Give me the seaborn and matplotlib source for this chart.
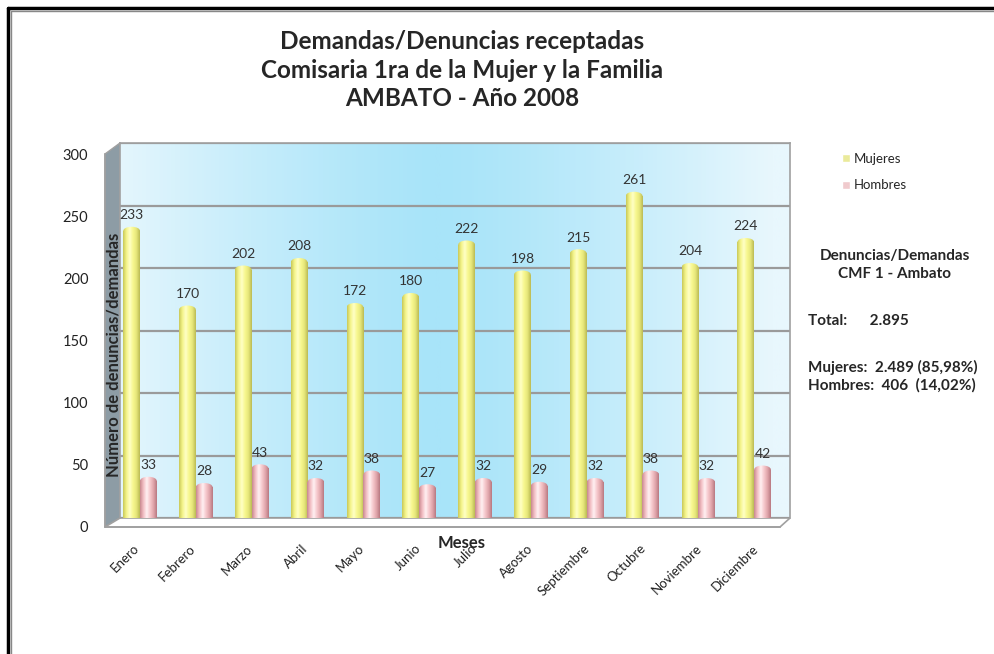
import numpy as np
import pandas as pd
import matplotlib
matplotlib.use('Agg')
import matplotlib.pyplot as plt
import seaborn as sns
from matplotlib.patches import Rectangle, Ellipse, Polygon
from matplotlib.colors import LinearSegmentedColormap
from matplotlib.lines import Line2D

# datos del grafico
meses = ['Enero', 'Febrero', 'Marzo', 'Abril', 'Mayo', 'Junio', 'Julio',
         'Agosto', 'Septiembre', 'Octubre', 'Noviembre', 'Diciembre']
mujeres = [233, 170, 202, 208, 172, 180, 222, 198, 215, 261, 204, 224]
hombres = [33, 28, 43, 32, 38, 27, 32, 29, 32, 38, 32, 42]
series = ['Mujeres', 'Hombres']
yticks = [0, 50, 100, 150, 200, 250, 300]

df = pd.DataFrame({
    'mes': meses * 2,
    'sexo': ['Mujeres'] * len(meses) + ['Hombres'] * len(meses),
    'valor': mujeres + hombres,
})

sns.set_style('white')
plt.rcParams['font.family'] = ['Lato', 'DejaVu Sans']

W, H = 994, 654
fig = plt.figure(figsize=(W / 100, H / 100), dpi=100)


def fx(px):
    return px / W


def fy(py):
    return 1 - py / H


# pared del fondo (back wall) = ejes de datos
ax = fig.add_axes([fx(120), fy(518), fx(790) - fx(120), fy(143) - fy(518)])

grad = np.abs(np.linspace(-1, 1, 256) + 0.05) ** 1.3
wall_cmap = LinearSegmentedColormap.from_list('wall', ['#a8e4f9', '#e8f7fd'])
ax.imshow(grad[None, :], cmap=wall_cmap, extent=[0, 1, 0, 1], transform=ax.transAxes,
          aspect='auto', zorder=0, vmin=0, vmax=1)

sns.barplot(data=df, x='mes', y='valor', hue='sexo', palette=['#f7f78e', '#f6c4c8'],
            width=0.6, ax=ax, zorder=3)
ax.set_xlim(-0.358, 11.642)
ax.set_ylim(0, 300)
ax.set_yticks(yticks)
ax.yaxis.grid(True, color='#9a9a9a', lw=1.6, zorder=1)
ax.set_axisbelow(True)
ax.set_xticks([])
ax.set_yticklabels([])
ax.tick_params(length=0)
ax.set_xlabel('')
ax.set_ylabel('')
for s in ax.spines.values():
    s.set_color('#a0a0a0')
    s.set_linewidth(1.2)
ax.spines['bottom'].set_visible(False)

# cilindros con sombreado
cmaps = {
    'Mujeres': LinearSegmentedColormap.from_list('m', ['#c9c95a', '#f4f48a', '#ffffc6', '#f7f78e', '#e6e67a', '#bcbc55']),
    'Hombres': LinearSegmentedColormap.from_list('h', ['#c98990', '#f3c0c5', '#fff0f2', '#f6c8cc', '#e0a5ab', '#b97a82']),
}
shade = np.linspace(0, 1, 64)[None, :]
for cont, name in zip(ax.containers, series):
    for bar in cont:
        x, w, h = bar.get_x(), bar.get_width(), bar.get_height()
        bar.set_facecolor('none')
        bar.set_edgecolor('none')
        cap = 6.5
        body = Rectangle((x, 0), w, h - cap / 2, transform=ax.transData)
        top = Ellipse((x + w / 2, h - cap / 2), w, cap, transform=ax.transData)
        for clip in (body, top):
            im = ax.imshow(shade, cmap=cmaps[name], extent=[x, x + w, 0, h + 1],
                           aspect='auto', zorder=3)
            im.set_clip_path(clip)
    ax.bar_label(cont, labels=[str(int(b.get_height())) for b in cont], padding=4,
                 fontsize=10, color='#333333')
ax.set_xlim(-0.358, 11.642)
ax.set_ylim(0, 300)

sns.move_legend(ax, loc='upper left', bbox_to_anchor=(fx(830), fy(141)),
                bbox_transform=fig.transFigure, frameon=False, title=None,
                fontsize=9.5, handlelength=0.6, handleheight=0.6, handletextpad=0.3,
                labelspacing=1.1)

# pared lateral y piso (detras de los ejes)
fig.patches.append(Polygon([(fx(105), fy(527)), (fx(105), fy(154)), (fx(120), fy(143)), (fx(120), fy(518))],
                           closed=True, transform=fig.transFigure, facecolor='#8d9ca5',
                           edgecolor='#a0a0a0', lw=1, zorder=-1))
fig.patches.append(Polygon([(fx(105), fy(527)), (fx(780), fy(527)), (fx(790), fy(518)), (fx(120), fy(518))],
                           closed=True, transform=fig.transFigure, facecolor='white',
                           edgecolor='#a0a0a0', lw=1.2, zorder=-1))

# eje frontal con las etiquetas
fr = fig.add_axes([fx(105), fy(527), fx(780) - fx(105), fy(154) - fy(527)])
fr.patch.set_alpha(0)
fr.set_xlim(-0.5, 11.5)
fr.set_ylim(0, 300)
fr.set_yticks(yticks)
fr.set_yticklabels([str(v) for v in yticks], fontsize=10.5, color='#222222')
fr.set_xticks(range(len(meses)))
fr.set_xticklabels(meses, rotation=45, ha='right', va='top', rotation_mode='anchor',
                   fontsize=9.5, color='#222222')
fr.set_xticks(np.arange(-0.5, 12, 1), minor=True)
fr.tick_params(axis='x', which='major', length=0, pad=11)
fr.tick_params(axis='x', which='minor', length=5, color='#a0a0a0', width=1.2)
fr.tick_params(axis='y', length=6, color='#a0a0a0', width=1.2, pad=6)
for k in ['top', 'right']:
    fr.spines[k].set_visible(False)
fr.spines['left'].set_color('#a0a0a0')
fr.spines['bottom'].set_color('#a0a0a0')
fr.spines['left'].set_linewidth(1.2)
fr.spines['bottom'].set_linewidth(1.2)
fr.set_ylabel('Número de denuncias/demandas', fontsize=12, fontweight='bold')
fr.yaxis.set_label_coords(0.024, 0.461)
fr.set_xlabel('Meses', fontsize=12, fontweight='bold')
fr.xaxis.set_label_coords(0.529, -0.022)

# titulo
fig.text(fx(462), fy(70), 'Demandas/Denuncias receptadas\nComisaria 1ra de la Mujer y la Familia\nAMBATO - Año 2008',
         ha='center', va='center', fontsize=17.5, fontweight='bold', linespacing=1.3)

# resumen a la derecha
fig.text(fx(895), fy(265), 'Denuncias/Demandas\nCMF 1 - Ambato', ha='center', va='center',
         fontsize=11, fontweight='bold', linespacing=1.3)
fig.text(fx(808), fy(321), 'Total:      2.895', ha='left', va='center', fontsize=11, fontweight='bold')
fig.text(fx(808), fy(376), 'Mujeres:  2.489 (85,98%)\nHombres:  406  (14,02%)', ha='left', va='center',
         fontsize=11, fontweight='bold', linespacing=1.25)

# marco
fig.add_artist(Line2D([fx(8), fx(8)], [fy(8), 0], color='black', lw=2.5, transform=fig.transFigure))
fig.add_artist(Line2D([fx(8), 1], [fy(8), fy(8)], color='black', lw=2.5, transform=fig.transFigure))
fig.add_artist(Line2D([fx(10.5), fx(10.5)], [fy(10.5), 0], color='#888888', lw=1, transform=fig.transFigure))
fig.add_artist(Line2D([fx(10.5), 1], [fy(10.5), fy(10.5)], color='#888888', lw=1, transform=fig.transFigure))

fig.savefig('out.png', dpi=100, facecolor='white')
